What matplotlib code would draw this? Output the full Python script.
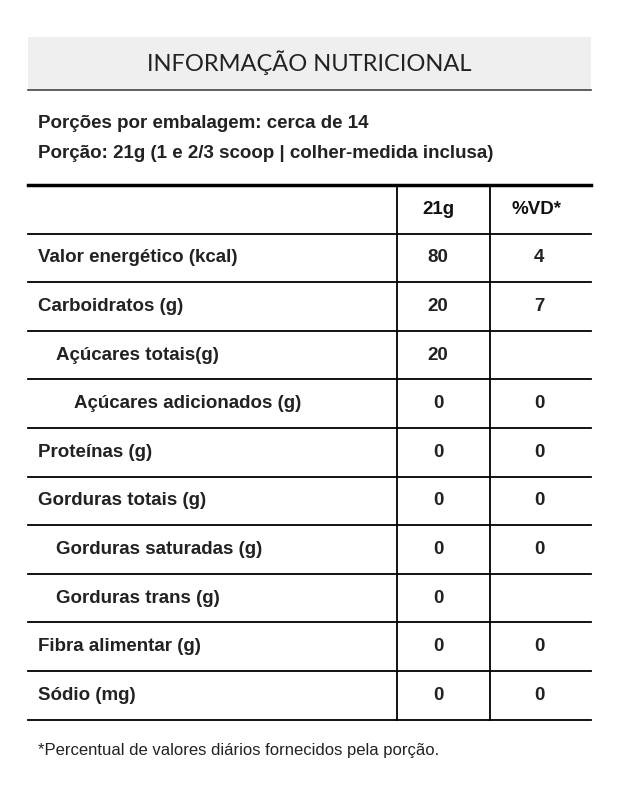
import matplotlib
matplotlib.use("Agg")
from matplotlib import pyplot as plt

plt.rcParams['font.family'] = ['Liberation Sans', 'DejaVu Sans']

title = "INFORMAÇÃO NUTRICIONAL"
serving_lines = ["Porções por embalagem: cerca de 14",
                 "Porção: 21g (1 e 2/3 scoop | colher-medida inclusa)"]
col_headers = ["21g", "%VD*"]
nutrients = ["Valor energético (kcal)", "Carboidratos (g)", "Açúcares totais(g)",
             "Açúcares adicionados (g)", "Proteínas (g)", "Gorduras totais (g)",
             "Gorduras saturadas (g)", "Gorduras trans (g)", "Fibra alimentar (g)",
             "Sódio (mg)"]
indent = [0, 0, 1, 2, 0, 0, 1, 1, 0, 0]
amounts = ["80", "20", "20", "0", "0", "0", "0", "0", "0", "0"]
vd = ["4", "7", "", "0", "0", "0", "0", "", "0", "0"]
footnote = "*Percentual de valores diários fornecidos pela porção."

W, H = 619, 800
fig = plt.figure(figsize=(W / 100, H / 100), dpi=100)
ax = fig.add_axes([0, 0, 1, 1])
ax.set_xlim(0, W)
ax.set_ylim(H, 0)
ax.axis("off")

L, R = 28, 591
c1, c2 = 397, 490
# header band
ax.add_patch(plt.Rectangle((L, 37), R - L, 53, color="#efefef", lw=0))
ax.text((L + R) / 2, 63, title, ha="center", va="center", fontsize=17,
        color="#222222", family="Lato")
ax.plot([L, R], [90, 90], color="#444444", lw=1.2)
for i, s in enumerate(serving_lines):
    ax.text(38, 123 + 30 * i, s, ha="left", va="center", fontsize=13.5,
            fontweight="bold", color="#222222")
ax.plot([L, R], [185, 185], color="black", lw=2.5)

top, rh = 185, 48.6
fs = 13.5
ax.text(438, top + rh / 2, col_headers[0], ha="center", va="center",
        fontsize=fs, fontweight="bold", color="#111111")
ax.text(537, top + rh / 2, col_headers[1], ha="center", va="center",
        fontsize=fs, fontweight="bold", color="#111111")
n = len(nutrients)
for i in range(n + 1):
    y = top + rh * (i + 1)
    ax.plot([L, R], [y, y], color="black", lw=1.3)
bottom = top + rh * (n + 1)
for x in (c1, c2):
    ax.plot([x, x], [top, bottom], color="black", lw=1.3)
for i, name in enumerate(nutrients):
    yc = top + rh * (i + 1.5)
    ax.text(38 + 18 * indent[i], yc, name, ha="left", va="center", fontsize=fs,
            fontweight="bold", color="#222222")
    ax.text(438, yc, amounts[i], ha="center", va="center", fontsize=fs,
            fontweight="bold", color="#222222")
    ax.text(539, yc, vd[i], ha="center", va="center", fontsize=fs,
            fontweight="bold", color="#222222")
ax.text(38, 750, footnote, ha="left", va="center", fontsize=12, color="#222222")

fig.savefig("out.png", dpi=100, facecolor="white")
